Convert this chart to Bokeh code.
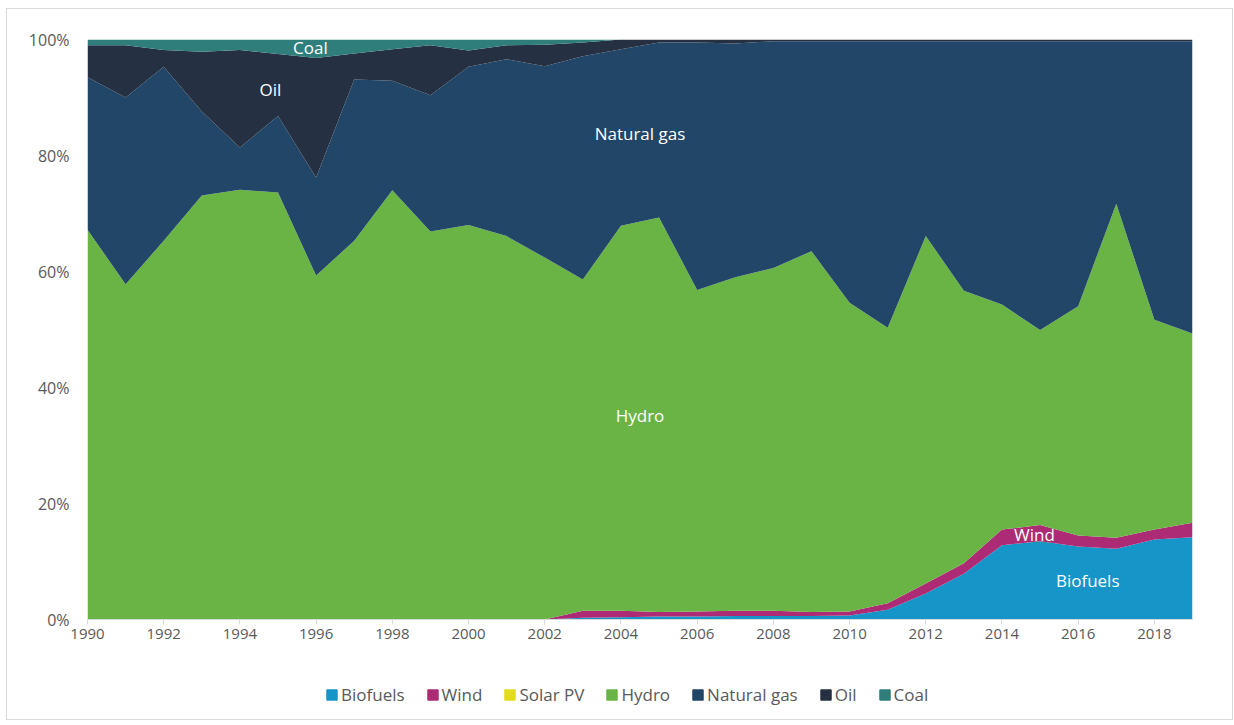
from bokeh.plotting import figure
from bokeh.layouts import column
from bokeh.models import ColumnDataSource, FixedTicker, Legend, Range1d
from bokeh.core.properties import value
from bokeh.embed import file_html
from bokeh.resources import INLINE

years = list(range(1990, 2020))

biofuels = [0, 0, 0, 0, 0, 0, 0, 0, 0, 0, 0, 0, 0,
            0.3, 0.4, 0.5, 0.5, 0.6, 0.6, 0.6, 0.7, 1.7, 4.5, 7.9, 12.8, 13.5, 12.6, 12.2, 13.8, 14.2]
wind = [0, 0, 0, 0, 0, 0, 0, 0, 0, 0, 0, 0, 0,
        1.2, 1.1, 0.8, 0.9, 0.9, 0.9, 0.7, 0.7, 1.1, 1.7, 1.8, 2.7, 2.8, 1.9, 1.9, 1.7, 2.5]
solar_pv = [0] * 30
hydro = [67.2, 57.8, 65.3, 73.1, 74.1, 73.6, 59.3, 65.3, 74.0, 66.9, 68.0, 66.1, 62.4,
         57.1, 66.4, 68.0, 55.4, 57.5, 59.1, 62.2, 53.2, 47.5, 59.9, 47.0, 38.8, 33.6, 39.5, 57.6, 36.2, 32.6]
natural_gas = [26.3, 32.2, 30.0, 14.5, 7.3, 13.2, 16.9, 27.8, 18.9, 23.5, 27.3, 30.5, 33.0,
               38.5, 30.4, 30.2, 42.7, 40.3, 39.1, 36.2, 45.1, 49.4, 33.6, 43.0, 45.4, 49.8, 45.7, 28.0, 48.0, 50.4]
oil = [5.5, 9.0, 2.9, 10.3, 16.8, 10.7, 20.6, 4.5, 5.4, 8.6, 2.8, 2.4, 3.7,
       2.4, 1.7, 0.5, 0.5, 0.7, 0.3, 0.3, 0.3, 0.3, 0.3, 0.3, 0.3, 0.3, 0.3, 0.3, 0.3, 0.3]
coal = [1.0, 1.0, 1.8, 2.1, 1.8, 2.5, 3.2, 2.4, 1.7, 1.0, 1.9, 1.0, 0.9,
        0.5, 0, 0, 0, 0, 0, 0, 0, 0, 0, 0, 0, 0, 0, 0, 0, 0]

series_names = ["Biofuels", "Wind", "Solar PV", "Hydro", "Natural gas", "Oil", "Coal"]
series_values = [biofuels, wind, solar_pv, hydro, natural_gas, oil, coal]
colors = ["#1695c8", "#ad2a74", "#e2dc1c", "#6ab445", "#224667", "#253142", "#2f7e7c"]

y_ticks = [0, 20, 40, 60, 80, 100]
x_ticks = list(range(1990, 2019, 2))

label_texts = ["Coal", "Oil", "Natural gas", "Hydro", "Wind", "Biofuels"]
label_x = [1995.85, 1994.8, 2004.5, 2004.5, 2014.85, 2016.25]
label_y = [98.7, 91.4, 83.8, 35.2, 14.7, 6.7]

# normalise to 100 %
totals = [sum(s[i] for s in series_values) for i in range(len(years))]
keys = ["s%d" % i for i in range(len(series_values))]
data = {"year": years}
for k, s in zip(keys, series_values):
    data[k] = [v / t * 100 for v, t in zip(s, totals)]
source = ColumnDataSource(data)

p = figure(frame_width=1105, frame_height=580, output_backend="svg", toolbar_location=None,
           x_range=Range1d(1990, 2019), y_range=Range1d(0, 100),
           min_border_left=80, min_border_right=40, min_border_top=30, min_border_bottom=40)

p.varea_stack(keys, x="year", source=source, color=colors)

p.text(x=label_x, y=label_y, text=label_texts, text_color="white",
       text_align="center", text_baseline="middle",
       text_font=value("Open Sans"), text_font_size="17px")

p.xgrid.visible = False
p.ygrid.visible = False
p.outline_line_color = None

p.xaxis.ticker = FixedTicker(ticks=x_ticks)
p.xaxis.axis_line_color = "#d9d9d9"
p.xaxis.major_tick_line_color = "#d9d9d9"
p.xaxis.major_tick_in = 0
p.xaxis.major_tick_out = 5
p.xaxis.minor_tick_line_color = None
p.xaxis.major_label_text_font = "Open Sans"
p.xaxis.major_label_text_font_size = "15px"
p.xaxis.major_label_text_color = "#595959"
p.xaxis.major_label_standoff = 4

p.yaxis.ticker = FixedTicker(ticks=y_ticks)
p.yaxis.major_label_overrides = {t: "%d%%" % t for t in y_ticks}
p.yaxis.axis_line_color = None
p.yaxis.major_tick_line_color = None
p.yaxis.minor_tick_line_color = None
p.yaxis.major_label_text_font = "Open Sans"
p.yaxis.major_label_text_font_size = "16px"
p.yaxis.major_label_text_color = "#595959"
p.yaxis.major_label_standoff = 12

# legend in its own strip below the chart (swatches are drawn off-range)
lg = figure(width=1225, height=60, output_backend="svg", toolbar_location=None,
            x_range=Range1d(0, 1), y_range=Range1d(0, 1),
            min_border=0)
lg.axis.visible = False
lg.grid.visible = False
lg.outline_line_color = None
lrs = [lg.rect(x=[-5], y=[-5], width=0.1, height=0.1, color=c) for c in colors]
legend = Legend(items=[(n, [r]) for n, r in zip(series_names, lrs)],
                orientation="horizontal", location=(238, 13),
                label_text_font="Open Sans", label_text_font_size="17px",
                label_text_color="#595959", glyph_width=13, glyph_height=13,
                spacing=21, label_standoff=3, padding=0, margin=0,
                border_line_color=None, background_fill_alpha=0)
lg.add_layout(legend, "center")

layout = column(p, lg, spacing=0)
layout.styles = {"border": "1px solid #d9d9d9", "margin-left": "6px", "margin-top": "8px"}

open("out.html", "w").write(file_html(layout, INLINE))
